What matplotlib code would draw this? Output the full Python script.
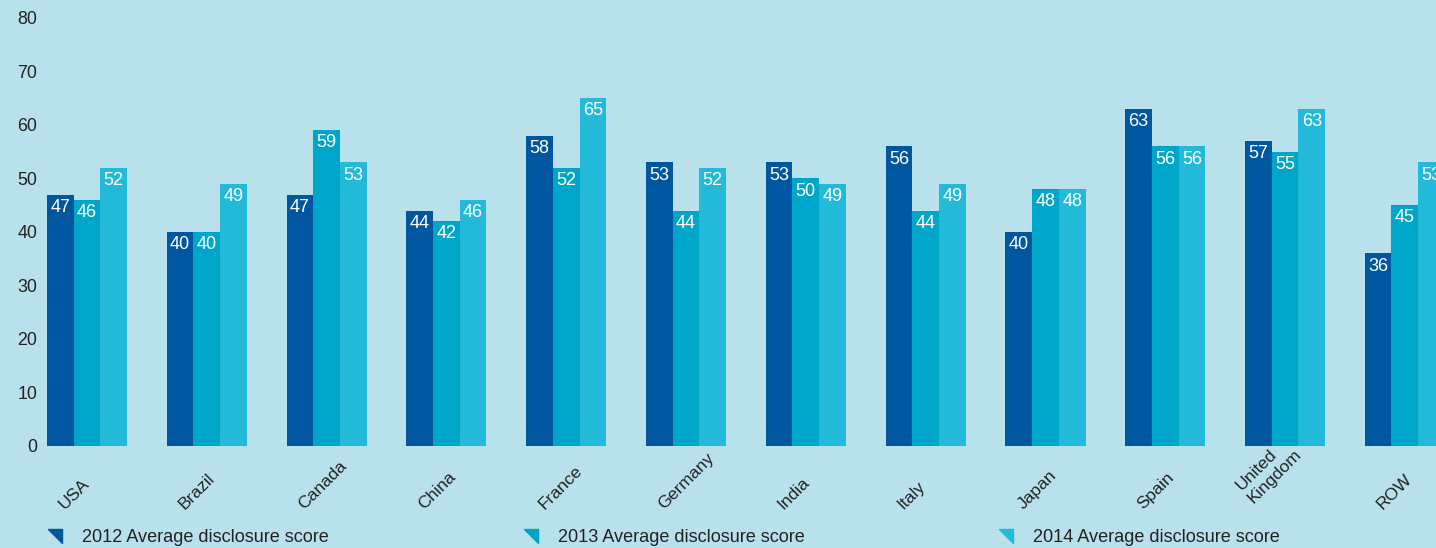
import matplotlib.pyplot as plt
import numpy as np
from matplotlib.lines import Line2D
from matplotlib.path import Path

plt.rcParams['font.family'] = ['Liberation Sans', 'DejaVu Sans']

countries = ['USA', 'Brazil', 'Canada', 'China', 'France', 'Germany', 'India',
             'Italy', 'Japan', 'Spain', 'United\nKingdom', 'ROW']
score_2012 = [47, 40, 47, 44, 58, 53, 53, 56, 40, 63, 57, 36]
score_2013 = [46, 40, 59, 42, 52, 44, 50, 44, 48, 56, 55, 45]
score_2014 = [52, 49, 53, 46, 65, 52, 49, 49, 48, 56, 63, 53]
series_names = ['2012 Average disclosure score',
                '2013 Average disclosure score',
                '2014 Average disclosure score']

bg = '#b9e1eb'
colors = ['#00579f', '#00a6ca', '#23b9d8']
text_dark = '#222222'

fig = plt.figure(figsize=(14.36, 5.48), dpi=100, facecolor=bg)
ax = fig.add_axes([43 / 1436, 102 / 548, 1 - 43 / 1436, 446 / 548])
ax.set_facecolor(bg)

x = np.arange(len(countries))
w = 0.223
for k, vals in enumerate([score_2012, score_2013, score_2014]):
    bars = ax.bar(x + (k - 1) * w, vals, width=w, color=colors[k], linewidth=0)
    for b, v in zip(bars, vals):
        ax.annotate(str(v), (b.get_x() + b.get_width() / 2, v),
                    xytext=(0, -3), textcoords='offset points',
                    ha='center', va='top', color='white', fontsize=13)

ax.set_xlim(-0.367, 11.26)
ax.set_ylim(0, 83.36)
ax.set_yticks(range(0, 81, 10))
ax.tick_params(axis='y', length=0, pad=4.3, labelsize=12.8, labelcolor=text_dark)
ax.set_xticks([])
for s in ax.spines.values():
    s.set_visible(False)

# rotated country names, anchored at the left end of the baseline
for i, name in enumerate(countries):
    if '\n' in name:
        dx, y = -33 / 119.8, (446 - 502) / 446
    else:
        dx, y = -22 / 119.8, (446 - 510) / 446
    ax.text(i + dx, y, name, transform=ax.get_xaxis_transform(),
            rotation=45, rotation_mode='anchor', ha='left', va='baseline',
            fontsize=12.6, color=text_dark, linespacing=1.2, clip_on=False)

# legend row along the bottom
tri = Path([(-1, 1), (1, 1), (1, -1), (-1, 1)], closed=True)
for k, (mx, tx) in enumerate([(55, 82), (531, 558), (1006, 1033)]):
    fig.add_artist(Line2D([mx / 1436], [1 - 536 / 548], marker=tri,
                          markersize=10, color=colors[k], linestyle='none',
                          transform=fig.transFigure))
    fig.text(tx / 1436, 1 - 542 / 548, series_names[k], fontsize=13.1,
             color=text_dark, ha='left', va='baseline')

fig.savefig('out.png', dpi=100, facecolor=bg)
